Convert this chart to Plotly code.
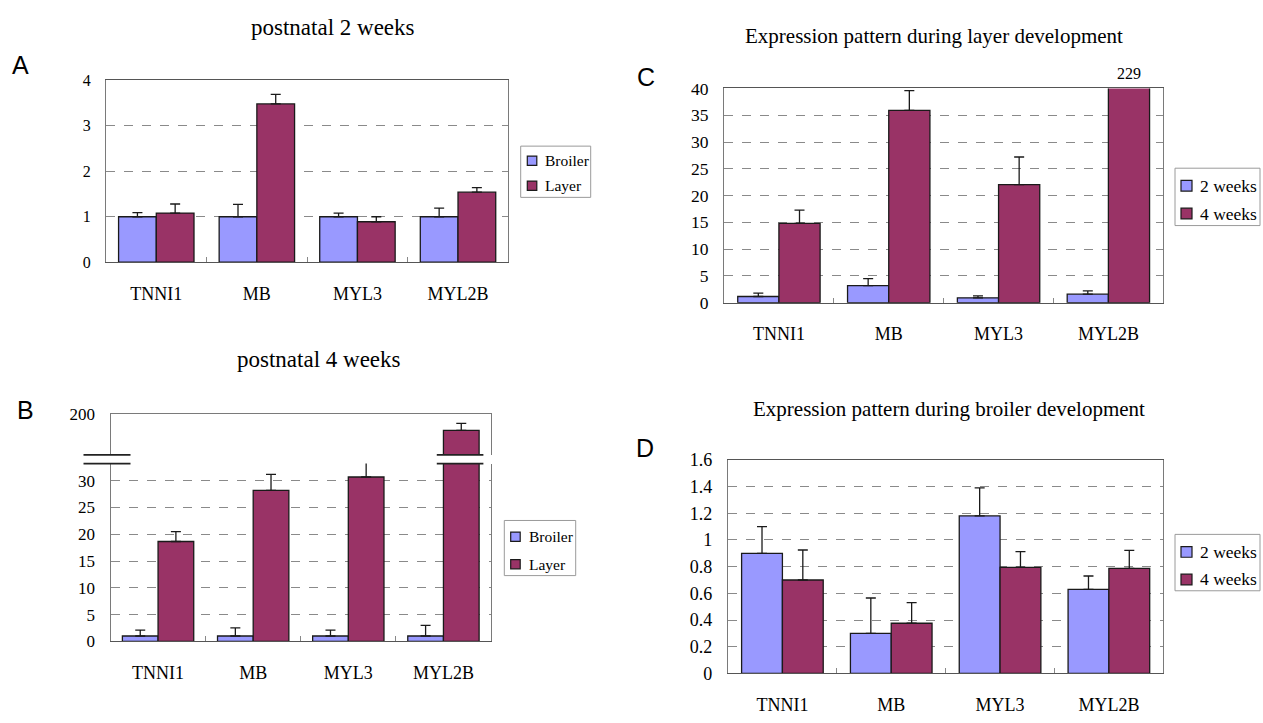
import plotly.graph_objects as go

# ---------------- data ----------------
genes = ["TNNI1", "MB", "MYL3", "MYL2B"]

a_broiler = [1.0, 1.0, 1.0, 1.0]
a_broiler_err = [0.09, 0.27, 0.08, 0.19]
a_layer = [1.08, 3.48, 0.89, 1.54]
a_layer_err = [0.20, 0.21, 0.11, 0.10]

b_broiler = [1.0, 1.0, 1.0, 1.0]
b_broiler_err = [1.1, 1.5, 1.1, 2.0]
b_layer = [18.65, 28.2, 30.7, 188.0]
b_layer_err = [1.85, 3.0, 3.0, 5.2]

c_2w = [1.15, 3.2, 0.9, 1.58]
c_2w_err = [0.65, 1.3, 0.37, 0.62]
c_4w = [14.8, 35.9, 22.05, 229.0]
c_4w_err = [2.5, 3.7, 5.15, 0.0]

d_2w = [0.90, 0.30, 1.18, 0.63]
d_2w_err = [0.20, 0.265, 0.21, 0.10]
d_4w = [0.70, 0.376, 0.794, 0.787]
d_4w_err = [0.225, 0.154, 0.119, 0.135]

titles = ["postnatal 2 weeks", "postnatal 4 weeks",
          "Expression pattern during layer development",
          "Expression pattern during broiler development"]
letters = ["A", "B", "C", "D"]
names_ab = ["Broiler", "Layer"]
names_cd = ["2 weeks", "4 weeks"]

# ---------------- style ----------------
W, H = 1263, 723
C1, C2 = "#9999FF", "#993366"
COLORS = [C1, C2]
SERIF = "Liberation Serif"
SANS = "Liberation Sans"
BARGAP = 0.25
OUTLINE = "#1a1a1a"


def px(x):
    return x / W


def py(y):
    return 1 - y / H


fig = go.Figure()


def add_pair(xa, ya, v1, e1, v2, e2, names):
    for v, e, c, n in ((v1, e1, C1, names[0]), (v2, e2, C2, names[1])):
        fig.add_trace(go.Bar(
            x=genes, y=v, name=n, xaxis=xa, yaxis=ya, showlegend=False,
            marker=dict(color=c, line=dict(color=OUTLINE, width=1.3)),
            error_y=dict(type="data", symmetric=False, array=e,
                         arrayminus=[0] * len(e), color=OUTLINE,
                         thickness=1.3, width=5),
        ))


add_pair("x", "y", a_broiler, a_broiler_err, a_layer, a_layer_err, names_ab)
add_pair("x2", "y2", b_broiler, b_broiler_err, b_layer, b_layer_err, names_ab)
add_pair("x5", "y5", b_broiler, b_broiler_err, b_layer, b_layer_err, names_ab)
add_pair("x3", "y3", c_2w, c_2w_err, c_4w, c_4w_err, names_cd)
add_pair("x4", "y4", d_2w, d_2w_err, d_4w, d_4w_err, names_cd)

FRAME = "#7a7a7a"
BASE = "#555555"


def xaxis(dom, anchor, mirror=True, labels=True):
    return dict(domain=dom, anchor=anchor, type="category", showline=True,
                linecolor=BASE, linewidth=1.3, mirror=mirror,
                ticks="inside" if labels else "", ticklen=5, tickcolor="#888",
                tickson="boundaries", showgrid=False,
                showticklabels=labels, ticklabelstandoff=15,
                tickfont=dict(family=SERIF, size=18, color="black"),
                fixedrange=True)


def yaxis(dom, anchor, rng, fs, dtick=None, tickvals=None, grid=True):
    d = dict(domain=dom, anchor=anchor, range=rng, showline=True,
             linecolor=FRAME, linewidth=1.2, mirror=True, ticks="",
             showgrid=grid, gridcolor="#8a8a8a", griddash="dash", gridwidth=1,
             zeroline=False, ticklabelstandoff=11,
             tickfont=dict(family=SERIF, size=fs, color="black"),
             fixedrange=True)
    if dtick is not None:
        d["dtick"] = dtick
    if tickvals is not None:
        d["tickvals"] = tickvals
    return d


# plot frames in pixels
A = dict(x0=106, x1=508.3, y0=72.3, y1=259.4)
B = dict(x0=110.5, x1=491, yu0=415.7, yu1=457.5, yl0=466.5, yl1=649.3)
Cf = dict(x0=724, x1=1163.3, y0=80.7, y1=301)
D = dict(x0=728, x1=1163.3, y0=462.7, y1=682.3)

layout = dict(
    width=W, height=H, margin=dict(l=0, r=0, t=0, b=0),
    paper_bgcolor="white", plot_bgcolor="white", showlegend=False,
    barmode="group", bargap=BARGAP, bargroupgap=0,
    font=dict(family=SERIF, color="black"),
    xaxis=xaxis([px(A["x0"]), px(A["x1"])], "y"),
    yaxis=yaxis([py(A["y1"]), py(A["y0"])], "x", [0, 4], 16, dtick=1),
    xaxis2=xaxis([px(B["x0"]), px(B["x1"])], "y2", mirror=False),
    yaxis2=yaxis([py(B["yl1"]), py(B["yl0"])], "x2", [0, 33.2], 17, dtick=5),
    xaxis5=dict(xaxis([px(B["x0"]), px(B["x1"])], "y5", mirror=False, labels=False),
                side="top", matches="x2", linecolor=FRAME, linewidth=1.2),
    yaxis5=yaxis([py(B["yu1"]), py(B["yu0"])], "x5", [170, 200], 17,
                 tickvals=[200], grid=False),
    xaxis3=xaxis([px(Cf["x0"]), px(Cf["x1"])], "y3"),
    yaxis3=yaxis([py(Cf["y1"]), py(Cf["y0"])], "x3", [0, 40], 17.5, dtick=5),
    xaxis4=xaxis([px(D["x0"]), px(D["x1"])], "y4"),
    yaxis4=yaxis([py(D["y1"]), py(D["y0"])], "x4", [0, 1.6], 18, dtick=0.2),
)
fig.update_layout(**layout)

ann = []
shapes = []

# titles and panel letters
title_pos = [(333, 18.3, 23), (318.5, 359, 23), (934, 26.7, 21), (949, 410, 21)]
for t, (tx, ty, fs) in zip(titles, title_pos):
    ann.append(dict(text=t, x=px(tx), y=py(ty), xref="paper", yref="paper",
                    showarrow=False, xanchor="center", yanchor="middle",
                    font=dict(family=SERIF, size=fs, color="black")))
letter_pos = [(20.6, 56.7), (25.8, 411.7), (646, 69), (644.8, 450)]
for t, (tx, ty) in zip(letters, letter_pos):
    ann.append(dict(text=t, x=px(tx), y=py(ty), xref="paper", yref="paper",
                    showarrow=False, xanchor="center", yanchor="middle",
                    font=dict(family=SANS, size=25, color="black")))

# value label for the clipped MYL2B bar in panel C
cat_w = (Cf["x1"] - Cf["x0"]) / len(genes)
shift = cat_w * (1 - BARGAP) / 4
ann.append(dict(text=f"{c_4w[-1]:g}", x=genes[-1], xref="x3", y=1, yref="y3 domain",
                xshift=shift, yanchor="bottom", yshift=4, showarrow=False,
                font=dict(family=SERIF, size=16, color="black")))


# compact boxed legends (Excel style)
def legend_box(box, rows, sq_x, sq, text_x, names, fs):
    x0, x1, y0, y1 = box
    shapes.append(dict(type="rect", xref="paper", yref="paper",
                       x0=px(x0), x1=px(x1), y0=py(y1), y1=py(y0),
                       line=dict(color="#9a9a9a", width=1), fillcolor="white"))
    for ry, name, col in zip(rows, names, COLORS):
        shapes.append(dict(type="rect", xref="paper", yref="paper",
                           x0=px(sq_x), x1=px(sq_x + sq),
                           y0=py(ry + sq / 2), y1=py(ry - sq / 2),
                           line=dict(color=OUTLINE, width=1.2), fillcolor=col))
        ann.append(dict(text=name, x=px(text_x), y=py(ry), xref="paper", yref="paper",
                        showarrow=False, xanchor="left", yanchor="middle",
                        font=dict(family=SERIF, size=fs, color="black")))


legend_box((520.7, 590.7, 140, 192.7), (155, 180.7), 527.3, 9.5, 542.5, names_ab, 15.5)
legend_box((504.3, 575.7, 525, 581.7), (541.7, 570), 510.7, 9.5, 526.5, names_ab, 15.5)
legend_box((1175, 1260, 162.7, 221.7), (180.7, 209.3), 1181, 11, 1198, names_cd, 17.5)
legend_box((1175, 1260, 539.3, 597.3), (557.3, 585.7), 1181, 11, 1198, names_cd, 17.5)

# axis-break marks in panel B
for yy in (B["yu1"], B["yl0"]):
    shapes.append(dict(type="line", xref="paper", yref="paper",
                       x0=px(B["x0"] - 27), x1=px(B["x0"] + 20), y0=py(yy), y1=py(yy),
                       line=dict(color="#222222", width=1.6)))
    shapes.append(dict(type="line", xref="x2", yref="paper",
                       x0=len(genes) - 1 - 0.07, x1=len(genes) - 1 + 0.42,
                       y0=py(yy), y1=py(yy),
                       line=dict(color="#222222", width=1.6)))

fig.update_layout(annotations=ann, shapes=shapes)

fig.write_html(
    "out.html",
    config={"displayModeBar": False},
    post_script="document.body.style.margin='0px';document.body.style.overflow='hidden';",
)
